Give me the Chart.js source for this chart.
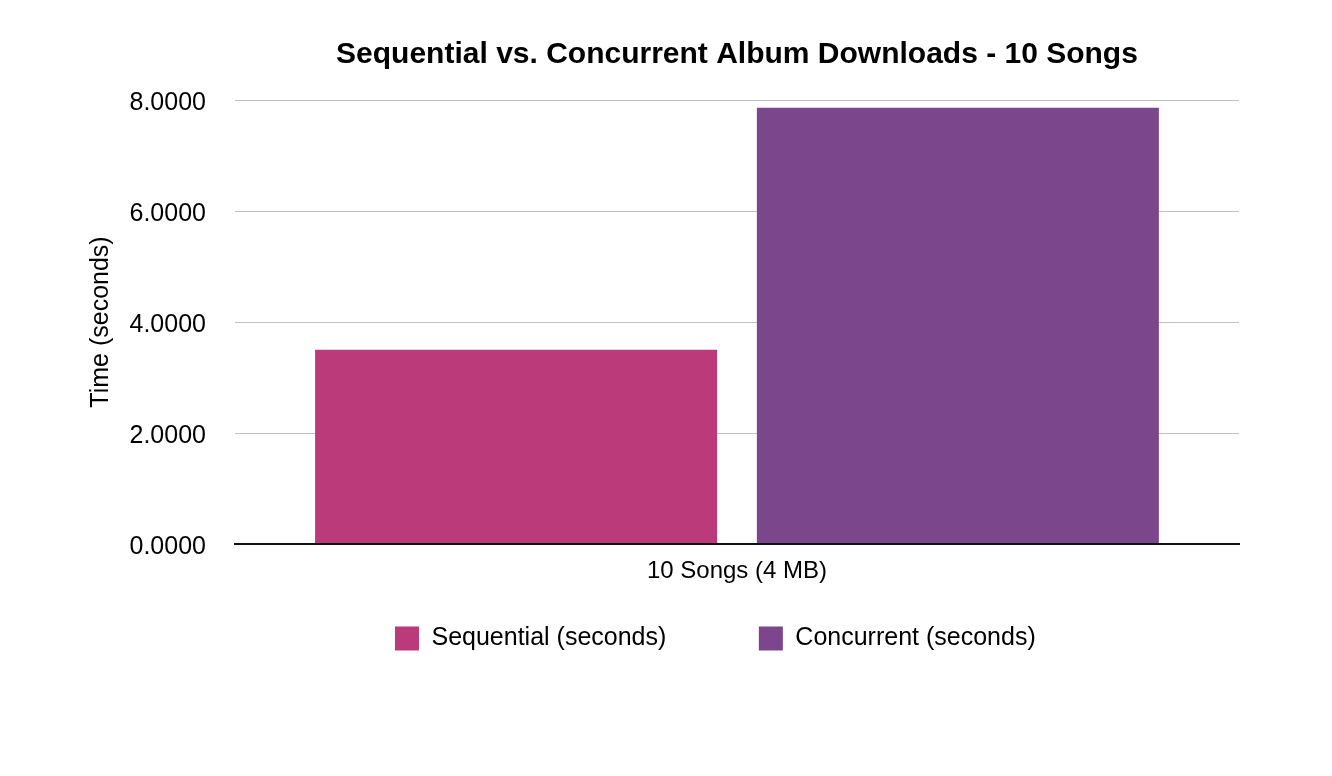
<!DOCTYPE html>
<html>
<head>
<meta charset="utf-8">
<title>Sequential vs. Concurrent Album Downloads</title>
<script src="https://cdn.jsdelivr.net/npm/chart.js@4/dist/chart.umd.min.js"></script>
<style>
    body { margin: 0; background: #fff; }
    #wrap { width: 1332px; height: 776px; position: relative; }
</style>
</head>
<body>
<div id="wrap"><canvas id="downloadChart"></canvas></div>
<script>
// Chart data
const categories = ['10 Songs (4 MB)'];
const seriesNames = ['Sequential (seconds)', 'Concurrent (seconds)'];
const sequentialTimes = [3.50];
const concurrentTimes = [7.86];
const yTicks = [0, 2, 4, 6, 8];

const fontFamily = '"Liberation Sans", Arial, Helvetica, sans-serif';
Chart.defaults.color = '#000';
Chart.defaults.font.family = fontFamily;

// Legend items, with an empty gap item between the two series
function legendLabels(chart) {
    const items = Chart.defaults.plugins.legend.labels.generateLabels(chart);
    items.splice(1, 0, {
        text: '',
        fillStyle: 'rgba(0,0,0,0)',
        strokeStyle: 'rgba(0,0,0,0)',
        lineWidth: 0,
        hidden: false,
        datasetIndex: -1
    });
    return items;
}

const ctx = document.getElementById('downloadChart').getContext('2d');
const downloadChart = new Chart(ctx, {
    type: 'bar',
    data: {
        labels: categories,
        datasets: [{
            label: seriesNames[0],
            data: sequentialTimes,
            backgroundColor: '#BB3A79',
            borderWidth: 0
        }, {
            label: seriesNames[1],
            data: concurrentTimes,
            backgroundColor: '#7C468D',
            borderWidth: 0
        }]
    },
    options: {
        responsive: true,
        maintainAspectRatio: false,
        animation: false,
        categoryPercentage: 0.88,
        barPercentage: 0.91,
        layout: {
            padding: { left: 120, right: 21.3, top: 0, bottom: 115 }
        },
        plugins: {
            title: {
                display: true,
                text: 'Sequential vs. Concurrent Album Downloads - 10 Songs',
                fullSize: false,
                font: { size: 30, weight: 'bold' },
                padding: { top: 37, bottom: 27 }
            },
            legend: {
                position: 'bottom',
                labels: {
                    boxWidth: 24,
                    boxHeight: 24,
                    padding: 28,
                    font: { size: 25 },
                    generateLabels: legendLabels
                }
            },
            tooltip: { enabled: false }
        },
        scales: {
            x: {
                grid: { display: false, drawTicks: false },
                border: { display: true, color: '#111', width: 2, z: 1 },
                ticks: { padding: 12.6, font: { size: 24 } }
            },
            y: {
                min: yTicks[0],
                max: yTicks[yTicks.length - 1],
                grid: { color: '#c2c2c2', lineWidth: 1, drawTicks: false },
                border: { display: false },
                ticks: {
                    stepSize: yTicks[1] - yTicks[0],
                    padding: 29,
                    labelOffset: 3,
                    font: { size: 25 },
                    callback: function(value) { return value.toFixed(4); }
                },
                title: {
                    display: true,
                    text: 'Time (seconds)',
                    font: { size: 25 },
                    padding: { top: -34, bottom: -15.5 }
                }
            },
            // empty axis on the right, only keeps space
            y2: {
                position: 'right',
                grid: { display: false, drawTicks: false },
                border: { display: false },
                ticks: { display: false },
                afterFit: function(scale) {
                    scale.width = 71.7;
                }
            }
        }
    }
});
</script>
</body>
</html>
